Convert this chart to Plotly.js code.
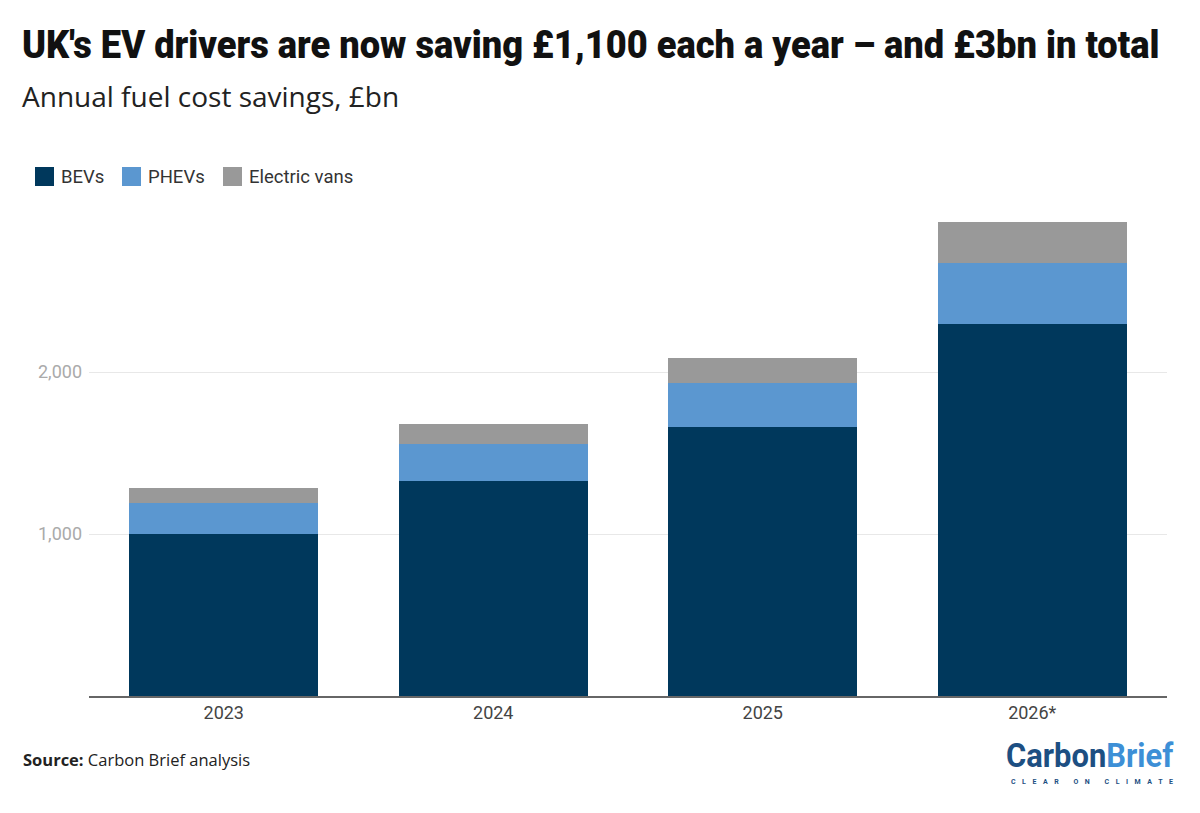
<!DOCTYPE html>
<html>
<head>
<meta charset="utf-8">
<script src="https://cdn.plot.ly/plotly-3.0.1.min.js"></script>
<style>
  html, body { margin: 0; padding: 0; background: #ffffff; }
  #chart { width: 1200px; height: 813px; }
</style>
</head>
<body>
<div id="chart"></div>
<script>
// ---- Data ----
const years = ['2023', '2024', '2025', '2026*'];
const bevs = [1000, 1327, 1660, 2296];
const phevs = [191, 229, 272, 377];
const vans = [93, 123, 154, 253];
const seriesNames = ['BEVs', 'PHEVs', 'Electric vans'];
const seriesColors = ['#00385c', '#5b97d0', '#999999'];
const yTickVals = [1000, 2000];
const yTickText = ['1,000', '2,000'];

// ---- Layout geometry (pixels) ----
const W = 1200, H = 813;
const plotL = 89, plotR = 1167, plotT = 210, plotB = 696;
const pw = plotR - plotL, ph = plotB - plotT;
const px = x => (x - plotL) / pw;
const py = y => (plotB - y) / ph;

const traces = [bevs, phevs, vans].map((vals, i) => ({
  type: 'bar',
  name: seriesNames[i],
  x: years,
  y: vals,
  marker: { color: seriesColors[i], line: { width: 0 } },
  hoverinfo: 'x+y+name',
  showlegend: false
}));

const annotations = [];
const shapes = [];
const fits = []; // {idx, left, width, mode}

function note(text, x, y, opts, fit) {
  if (fit) fits.push(Object.assign({ idx: annotations.length, left: x }, fit));
  annotations.push(Object.assign({
    text: text, xref: 'paper', yref: 'paper', x: px(x), y: py(y),
    xanchor: 'left', yanchor: 'middle', showarrow: false
  }, opts || {}));
}

const condensed = 'Roboto, "Liberation Sans", sans-serif';

// Title & subtitle
note('UK\'s EV drivers are now saving £1,100 each a year – and £3bn in total', 22, 45,
  { font: { family: condensed, size: 38, weight: 900, color: '#111111' } }, { width: 1138, mode: 'scale' });
note('Annual fuel cost savings, £bn', 20, 96,
  { font: { family: '"Open Sans", "Noto Sans", sans-serif', size: 28, color: '#222222' } });

// Custom legend
const legendItems = [
  { sx: 35, tx: 59 },
  { sx: 122, tx: 146 },
  { sx: 223, tx: 247 }
];
legendItems.forEach((it, i) => {
  shapes.push({
    type: 'rect', xref: 'paper', yref: 'paper',
    x0: px(it.sx), x1: px(it.sx + 19), y0: py(186), y1: py(167),
    fillcolor: seriesColors[i], line: { width: 0 }
  });
  note(seriesNames[i], it.tx, 177, { font: { family: 'Roboto, sans-serif', size: 18.5, color: '#333333' } });
});

// Source
note('<b>Source:</b> Carbon Brief analysis', 21, 759,
  { font: { family: '"Open Sans", "Noto Sans", sans-serif', size: 16.5, color: '#222222' } });

// Logo
note('<b><span style="color:#1d4f82">Carbon</span><span style="color:#3d8fd6">Brief</span></b>', 1006, 755,
  { font: { family: condensed, size: 34, color: '#1d4f82' } }, { width: 168, mode: 'scale' });
note('<b>CLEAR ON CLIMATE</b>', 1011, 782,
  { font: { family: 'Roboto, sans-serif', size: 7, color: '#1d4f82' } }, { width: 162, mode: 'space' });

const layout = {
  width: W, height: H,
  margin: { l: plotL, r: W - plotR, t: plotT, b: H - plotB, pad: 0 },
  paper_bgcolor: '#ffffff', plot_bgcolor: '#ffffff',
  barmode: 'stack',
  bargap: 0.3,
  showlegend: false,
  xaxis: {
    type: 'category',
    showline: true, linecolor: '#666666', linewidth: 1.5,
    showgrid: false, zeroline: false, ticks: '',
    tickfont: { family: 'Roboto, sans-serif', size: 18, color: '#444444' }
  },
  yaxis: {
    range: [0, 3000],
    tickvals: yTickVals, ticktext: yTickText,
    showgrid: true, gridcolor: '#e8e8e8', gridwidth: 1,
    zeroline: false, showline: false, ticks: '',
    ticklabelstandoff: 6,
    tickfont: { family: 'Roboto, sans-serif', size: 18, color: '#aaaaaa' }
  },
  annotations: annotations,
  shapes: shapes,
  font: { family: 'Roboto, sans-serif' }
};

Plotly.newPlot('chart', traces, layout, { displayModeBar: false }).then(gd => {
  const host = gd.getBoundingClientRect();
  fits.forEach(f => {
    const t = gd.querySelector('g.annotation[data-index="' + f.idx + '"] text.annotation-text');
    if (!t) return;
    if (f.mode === 'space') {
      const n = t.textContent.length;
      const w0 = t.getBBox().width;
      t.style.letterSpacing = ((f.width - w0) / (n - 1)).toFixed(2) + 'px';
    } else {
      const w = t.getBBox().width;
      t.style.transformBox = 'fill-box';
      t.style.transformOrigin = 'left center';
      t.style.transform = 'scaleX(' + (f.width / w).toFixed(4) + ')';
    }
    // shift so the left edge sits where the reference has it
    const r = t.getBoundingClientRect();
    const dx = f.left - (r.left - host.left);
    const prev = t.style.transform || '';
    t.style.transform = 'translateX(' + dx.toFixed(1) + 'px) ' + prev;
  });
});
</script>
</body>
</html>
